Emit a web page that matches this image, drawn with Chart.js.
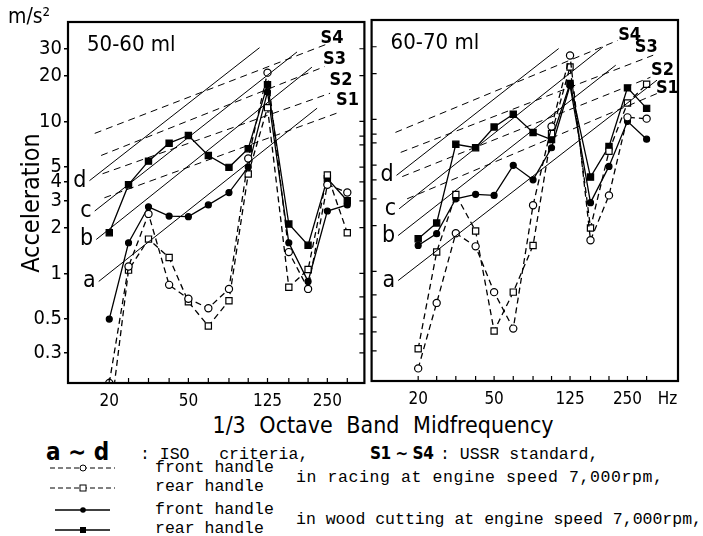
<!DOCTYPE html>
<html>
<head>
<meta charset="utf-8">
<script src="https://cdn.jsdelivr.net/npm/chart.js@4.4.0/dist/chart.umd.min.js"></script>
<style>
  body { margin: 0; background: #fff; width: 703px; height: 536px; position: relative; overflow: hidden; color: #000;
         font-family: "DejaVu Sans Condensed", "Liberation Sans Narrow", "DejaVu Sans", sans-serif; }
  canvas { position: absolute; top: 0; }
  #c1 { left: 0; }
  #c2 { left: 366px; }
  .t { position: absolute; white-space: nowrap; line-height: 1; }
  .mono { font-family: "Liberation Mono", "DejaVu Sans Mono", monospace; font-size: 16.5px; }
  svg { position: absolute; }
</style>
</head>
<body>
<canvas id="c1" width="370" height="410"></canvas>
<canvas id="c2" width="337" height="410"></canvas>

<div class="t" style="left:8px;top:6px;font-size:21px;">m/s²</div>
<div class="t" style="left:30px;top:203px;font-size:25px;transform:translate(-50%,-50%) rotate(-90deg);">Acceleration</div>
<div class="t" style="left:383px;top:425px;font-size:23px;transform:translate(-50%,-50%);word-spacing:7px;">1/3 Octave Band Midfrequency</div>

<div class="t" style="left:46px;top:440px;font-size:24px;font-weight:bold;">a ∼ d</div>
<div class="t mono" style="left:140px;top:447px;">: ISO&nbsp;&nbsp;&nbsp;criteria,</div>
<div class="t" style="left:370px;top:445px;font-size:17px;font-weight:bold;letter-spacing:-0.5px;">S1 ∼ S4</div>
<div class="t mono" style="left:440px;top:447px;">: USSR standard,</div>

<svg style="left:45px;top:458px" width="75" height="80">
  <line x1="5" y1="10" x2="70" y2="10" stroke="#000" stroke-width="1" stroke-dasharray="5,3"/>
  <circle cx="38" cy="10" r="3" fill="#fff" stroke="#000" stroke-width="1"/>
  <line x1="5" y1="30" x2="70" y2="30" stroke="#000" stroke-width="1" stroke-dasharray="5,3"/>
  <rect x="35" y="27" width="6" height="6" fill="#fff" stroke="#000" stroke-width="1"/>
  <line x1="10" y1="52" x2="65" y2="52" stroke="#000" stroke-width="1.3"/>
  <circle cx="38" cy="52" r="2.8" fill="#000"/>
  <line x1="10" y1="72" x2="65" y2="72" stroke="#000" stroke-width="1.3"/>
  <rect x="35" y="69" width="6" height="6" fill="#000"/>
</svg>
<div class="t mono" style="left:155px;top:460px;">front handle</div>
<div class="t mono" style="left:155px;top:479px;">rear handle</div>
<div class="t mono" style="left:296px;top:470px;letter-spacing:0.6px;">in racing at engine speed 7,000rpm,</div>
<div class="t mono" style="left:155px;top:502px;">front handle</div>
<div class="t mono" style="left:155px;top:521px;">rear handle</div>
<div class="t mono" style="left:296px;top:512px;">in wood cutting at engine speed 7,000rpm,</div>

<script>
// 1/3 octave band midfrequencies (Hz)
const freqs = [20, 25, 31.5, 40, 50, 63, 80, 100, 125, 160, 200, 250, 315];
const xTickLabels = [20, 50, 125, 250];
const yTickLabels = [0.3, 0.5, 1, 2, 3, 4, 5, 10, 20, 30];
const yInnerTicks = [0.3, 0.4, 0.5, 0.7, 1, 2, 3, 4, 5, 7, 8, 10, 20, 30];

// 50-60 ml saw (m/s^2)
const racingFront1 = [0.19, 1.11, 2.46, 0.84, 0.68, 0.59, 0.79, 5.7, 20.9, 1.38, 0.79, 3.83, 3.4];
const racingRear1  = [0.1, 1.05, 1.68, 1.27, 0.65, 0.45, 0.66, 4.5, 12.3, 0.81, 1.06, 4.44, 1.85];
const woodFront1   = [0.5, 1.59, 2.74, 2.38, 2.36, 2.82, 3.4, 5.0, 15.6, 1.59, 0.885, 2.57, 2.82];
const woodRear1    = [1.85, 3.83, 5.47, 7.18, 8.07, 5.96, 4.98, 6.6, 17.4, 2.11, 1.53, 4.2, 3.0];

// 60-70 ml saw (m/s^2)
const racingFront2 = [0.23, 0.62, 1.78, 1.46, 0.73, 0.42, 2.72, 8.98, 26.3, 1.6, 3.16, 10.3, 10.1];
const racingRear2  = [0.31, 1.34, 3.2, 1.84, 0.405, 0.73, 1.48, 8.05, 22.1, 1.93, 6.16, 12.8, 17.0];
const woodFront2   = [1.48, 1.77, 3.0, 3.21, 3.16, 4.98, 4.0, 6.5, 16.7, 2.83, 4.9, 9.7, 7.4];
const woodRear2    = [1.64, 2.08, 6.85, 6.5, 8.9, 10.8, 8.2, 7.36, 17.2, 4.17, 6.63, 16.1, 11.8];

// criteria lines, [Hz, m/s^2] at both ends
const isoNames = ['a', 'b', 'c', 'd'];
const isoStart1 = [[17.7, 0.885], [17.2, 1.67], [16.9, 2.57], [15.9, 4.07]];
const isoEnd1   = [[222, 12.2], [209, 22.7], [176, 28.6], [114, 30.5]];
const isoStart2 = [[15.7, 0.87], [15.7, 1.72], [15.9, 2.58], [15.4, 4.28]];
const isoEnd2   = [[357, 18.1], [217, 22.7], [186, 29.9], [109, 29.2]];
const ussrNames = ['S1', 'S2', 'S3', 'S4'];
const ussrStart1 = [[18.9, 3.14], [18.5, 4.52], [18.2, 5.96], [16.9, 8.33]];
const ussrEnd1   = [[278, 11.3], [258, 15.3], [242, 22.9], [258, 32.8]];
const ussrStart2 = [[17.5, 3.0], [16.5, 4.2], [16.2, 6.06], [15.2, 8.2]];
const ussrEnd2   = [[372, 15.1], [330, 18.9], [341, 26.4], [222, 33]];

const FAMILY = '"DejaVu Sans Condensed","Liberation Sans Narrow","DejaVu Sans",sans-serif';
const Y_MIN = 0.19, Y_MAX = 45;

const pts = vals => freqs.map((f, i) => ({ x: f, y: vals[i] }));
const seg = (a, b) => [{ x: a[0], y: a[1] }, { x: b[0], y: b[1] }];

function series(label, vals, style, fill, dash) {
  return {
    label, data: pts(vals), borderColor: '#000', borderWidth: 1.3, borderDash: dash,
    pointStyle: style, pointRadius: style === 'rect' ? 4.4 : (fill === '#000' ? 3 : 3.6),
    pointBackgroundColor: fill, pointBorderColor: '#000', pointBorderWidth: 1.2
  };
}

function panelDeco(p) {
  return {
    id: 'panelDeco',
    afterDatasetsDraw(chart) {
      const { ctx, chartArea: a, scales: { x, y } } = chart;
      ctx.save();
      ctx.strokeStyle = '#000';
      ctx.lineWidth = 1.2;
      ctx.beginPath();
      freqs.forEach(f => {
        const px = x.getPixelForValue(f);
        ctx.moveTo(px, a.bottom); ctx.lineTo(px, a.bottom - 5);
      });
      yInnerTicks.forEach(v => {
        const py = y.getPixelForValue(v);
        const ex = p.tickSide === 'right' ? a.right : a.left;
        const d = p.tickSide === 'right' ? -5 : 5;
        ctx.moveTo(ex, py); ctx.lineTo(ex + d, py);
      });
      ctx.stroke();
      ctx.lineWidth = 2.2;
      ctx.strokeRect(a.left, a.top, a.right - a.left, a.bottom - a.top);

      ctx.fillStyle = '#000';
      ctx.textBaseline = 'middle';
      ctx.textAlign = 'left';
      ctx.font = '22px ' + FAMILY;
      ctx.fillText(p.title, a.left + 19, a.top + 23);

      ctx.textAlign = 'right';
      ctx.font = '23px ' + FAMILY;
      p.isoStart.forEach((s, i) => {
        ctx.fillText(isoNames[i], x.getPixelForValue(s[0]) - 3, y.getPixelForValue(s[1]));
      });
      ctx.textAlign = 'center';
      ctx.font = 'bold 18px ' + FAMILY;
      p.ussrEnd.forEach((e, i) => {
        const o = p.sOffsets[i];
        ctx.fillText(ussrNames[i], x.getPixelForValue(e[0]) + o[0], y.getPixelForValue(e[1]) + o[1]);
      });
      if (p.unit) {
        ctx.font = '17px ' + FAMILY;
        ctx.fillText(p.unit, x.getPixelForValue(250) + 40, a.bottom + 19);
      }
      ctx.restore();
    }
  };
}

function makePanel(id, p) {
  const datasets = [];
  isoNames.forEach((n, i) => datasets.push({
    label: n, data: seg(p.isoStart[i], p.isoEnd[i]), borderColor: '#000', borderWidth: 1, pointRadius: 0
  }));
  ussrNames.forEach((n, i) => datasets.push({
    label: n, data: seg(p.ussrStart[i], p.ussrEnd[i]), borderColor: '#000', borderWidth: 1,
    borderDash: [7, 5], pointRadius: 0
  }));
  datasets.push(series('front handle, racing', p.racingFront, 'circle', '#fff', [6, 4]));
  datasets.push(series('rear handle, racing', p.racingRear, 'rect', '#fff', [6, 4]));
  datasets.push(series('front handle, wood cutting', p.woodFront, 'circle', '#000', []));
  datasets.push(series('rear handle, wood cutting', p.woodRear, 'rect', '#000', []));

  new Chart(document.getElementById(id), {
    type: 'line',
    data: { datasets },
    options: {
      responsive: false, animation: false, devicePixelRatio: 1,
      layout: { padding: p.padding },
      plugins: { legend: { display: false }, tooltip: { enabled: false } },
      scales: {
        x: {
          type: 'logarithmic', min: p.xMin, max: p.xMax,
          afterBuildTicks: s => { s.ticks = xTickLabels.map(v => ({ value: v })); },
          afterFit: s => { s.height = p.xAxisH; },
          grid: { display: false }, border: { display: false },
          ticks: { autoSkip: false, maxRotation: 0, padding: 0, color: '#000',
                   font: { family: FAMILY, size: 17 }, callback: v => String(v) }
        },
        y: {
          type: 'logarithmic', min: Y_MIN, max: Y_MAX, display: p.showY,
          afterBuildTicks: s => { s.ticks = yTickLabels.map(v => ({ value: v })); },
          afterFit: s => { s.width = p.showY ? 68 : 0; },
          grid: { display: true, drawOnChartArea: false, tickLength: 4, color: '#000', lineWidth: 1.5 },
          border: { display: false },
          ticks: { padding: 2, color: '#000', font: { family: FAMILY, size: 20 }, callback: v => String(v) }
        }
      }
    },
    plugins: [panelDeco(p)]
  });
}

makePanel('c1', {
  title: '50-60 ml', showY: true, tickSide: 'right',
  padding: { top: 22, right: 2, left: 0, bottom: 0 }, xAxisH: 27,
  xMin: 12.4, xMax: 384,
  racingFront: racingFront1, racingRear: racingRear1, woodFront: woodFront1, woodRear: woodRear1,
  isoStart: isoStart1, isoEnd: isoEnd1, ussrStart: ussrStart1, ussrEnd: ussrEnd1,
  sOffsets: [[11, -13], [11, -13], [10, -7], [2, -5]]
});

makePanel('c2', {
  title: '60-70 ml', showY: false, tickSide: 'left', unit: 'Hz',
  padding: { top: 20, right: 25, left: 2, bottom: 0 }, xAxisH: 29,
  xMin: 11.4, xMax: 460,
  racingFront: racingFront2, racingRear: racingRear2, woodFront: woodFront2, woodRear: woodRear2,
  isoStart: isoStart2, isoEnd: isoEnd2, ussrStart: ussrStart2, ussrEnd: ussrEnd2,
  sOffsets: [[7, -4], [12, -7], [-7, -8], [12, -5]]
});
</script>
</body>
</html>
